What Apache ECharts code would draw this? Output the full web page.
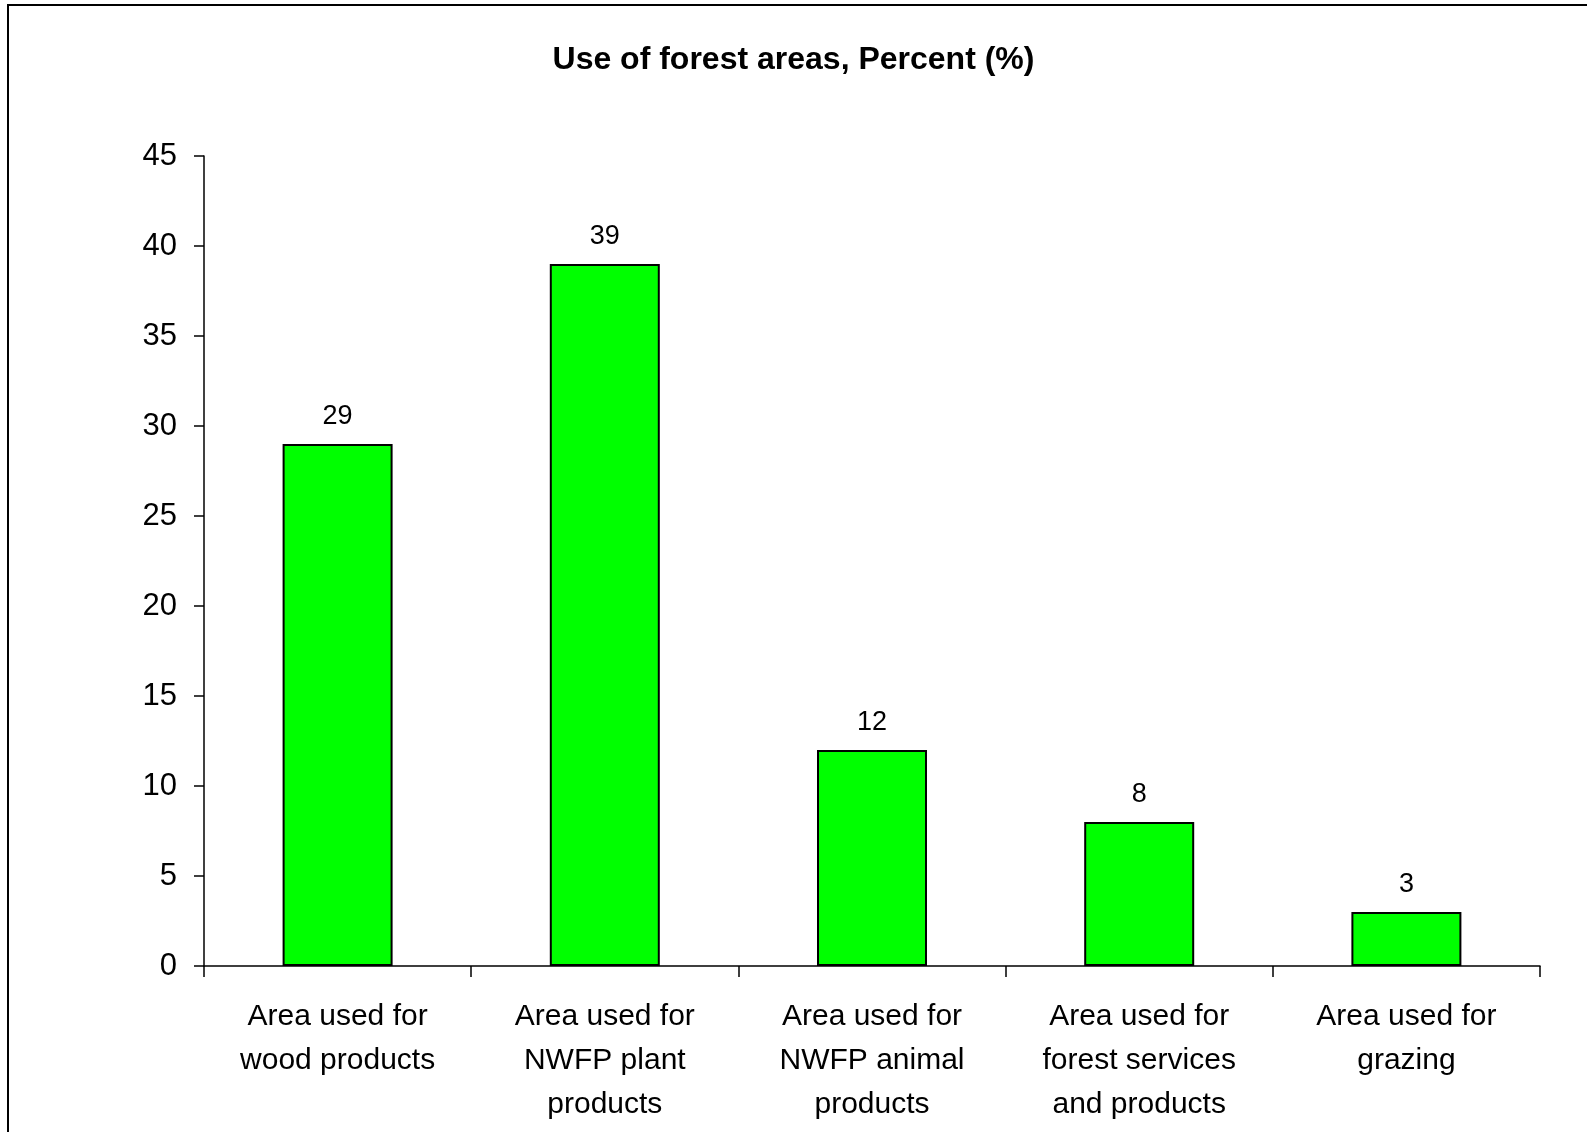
<!DOCTYPE html>
<html>
<head>
<meta charset="utf-8">
<script src="https://cdn.jsdelivr.net/npm/echarts@6/dist/echarts.min.js"></script>
<style>
html,body{margin:0;padding:0;background:#fff;}
#chart{width:1587px;height:1132px;}
</style>
</head>
<body>
<div id="chart"></div>
<script>
const titleText = 'Use of forest areas, Percent (%)';
const categories = [
  'Area used for\nwood products',
  'Area used for\nNWFP plant\nproducts',
  'Area used for\nNWFP animal\nproducts',
  'Area used for\nforest services\nand products',
  'Area used for\ngrazing'
];
const values = [29, 39, 12, 8, 3];
const yMin = 0, yMax = 45, yInterval = 5;

const chart = echarts.init(document.getElementById('chart'));
const font = '"Liberation Sans", Arial, sans-serif';
chart.setOption({
  animation: false,
  backgroundColor: '#fff',
  textStyle: { fontFamily: font },
  graphic: [{
    type: 'polyline',
    shape: { points: [[8, 1140], [8, 5], [1600, 5]] },
    style: { stroke: '#000', lineWidth: 2, fill: null }
  }],
  title: {
    text: titleText,
    left: 'center',
    top: 39,
    textStyle: { fontFamily: font, fontSize: 32, fontWeight: 'bold', color: '#000' }
  },
  grid: { left: 204, right: 47, top: 156, bottom: 166, containLabel: false },
  xAxis: {
    type: 'category',
    data: categories,
    axisLine: { lineStyle: { color: '#000', width: 1.5 } },
    axisTick: { show: true, length: 11, lineStyle: { color: '#000', width: 1.5 } },
    axisLabel: { color: '#000', fontSize: 30, lineHeight: 44, margin: 29, interval: 0, fontFamily: font },
    splitLine: { show: false }
  },
  yAxis: {
    type: 'value',
    min: yMin, max: yMax, interval: yInterval,
    axisLine: { show: true, lineStyle: { color: '#000', width: 1.5 } },
    axisTick: { show: true, length: 10, lineStyle: { color: '#000', width: 1.5 } },
    axisLabel: { color: '#000', fontSize: 31, margin: 27, fontFamily: font },
    splitLine: { show: false }
  },
  series: [{
    type: 'bar',
    data: values,
    barWidth: 110,
    itemStyle: { color: '#00FF00', borderColor: '#000', borderWidth: 2 },
    label: { show: true, position: 'top', distance: 14, color: '#000', fontSize: 27, fontFamily: font }
  }]
});
</script>
</body>
</html>
